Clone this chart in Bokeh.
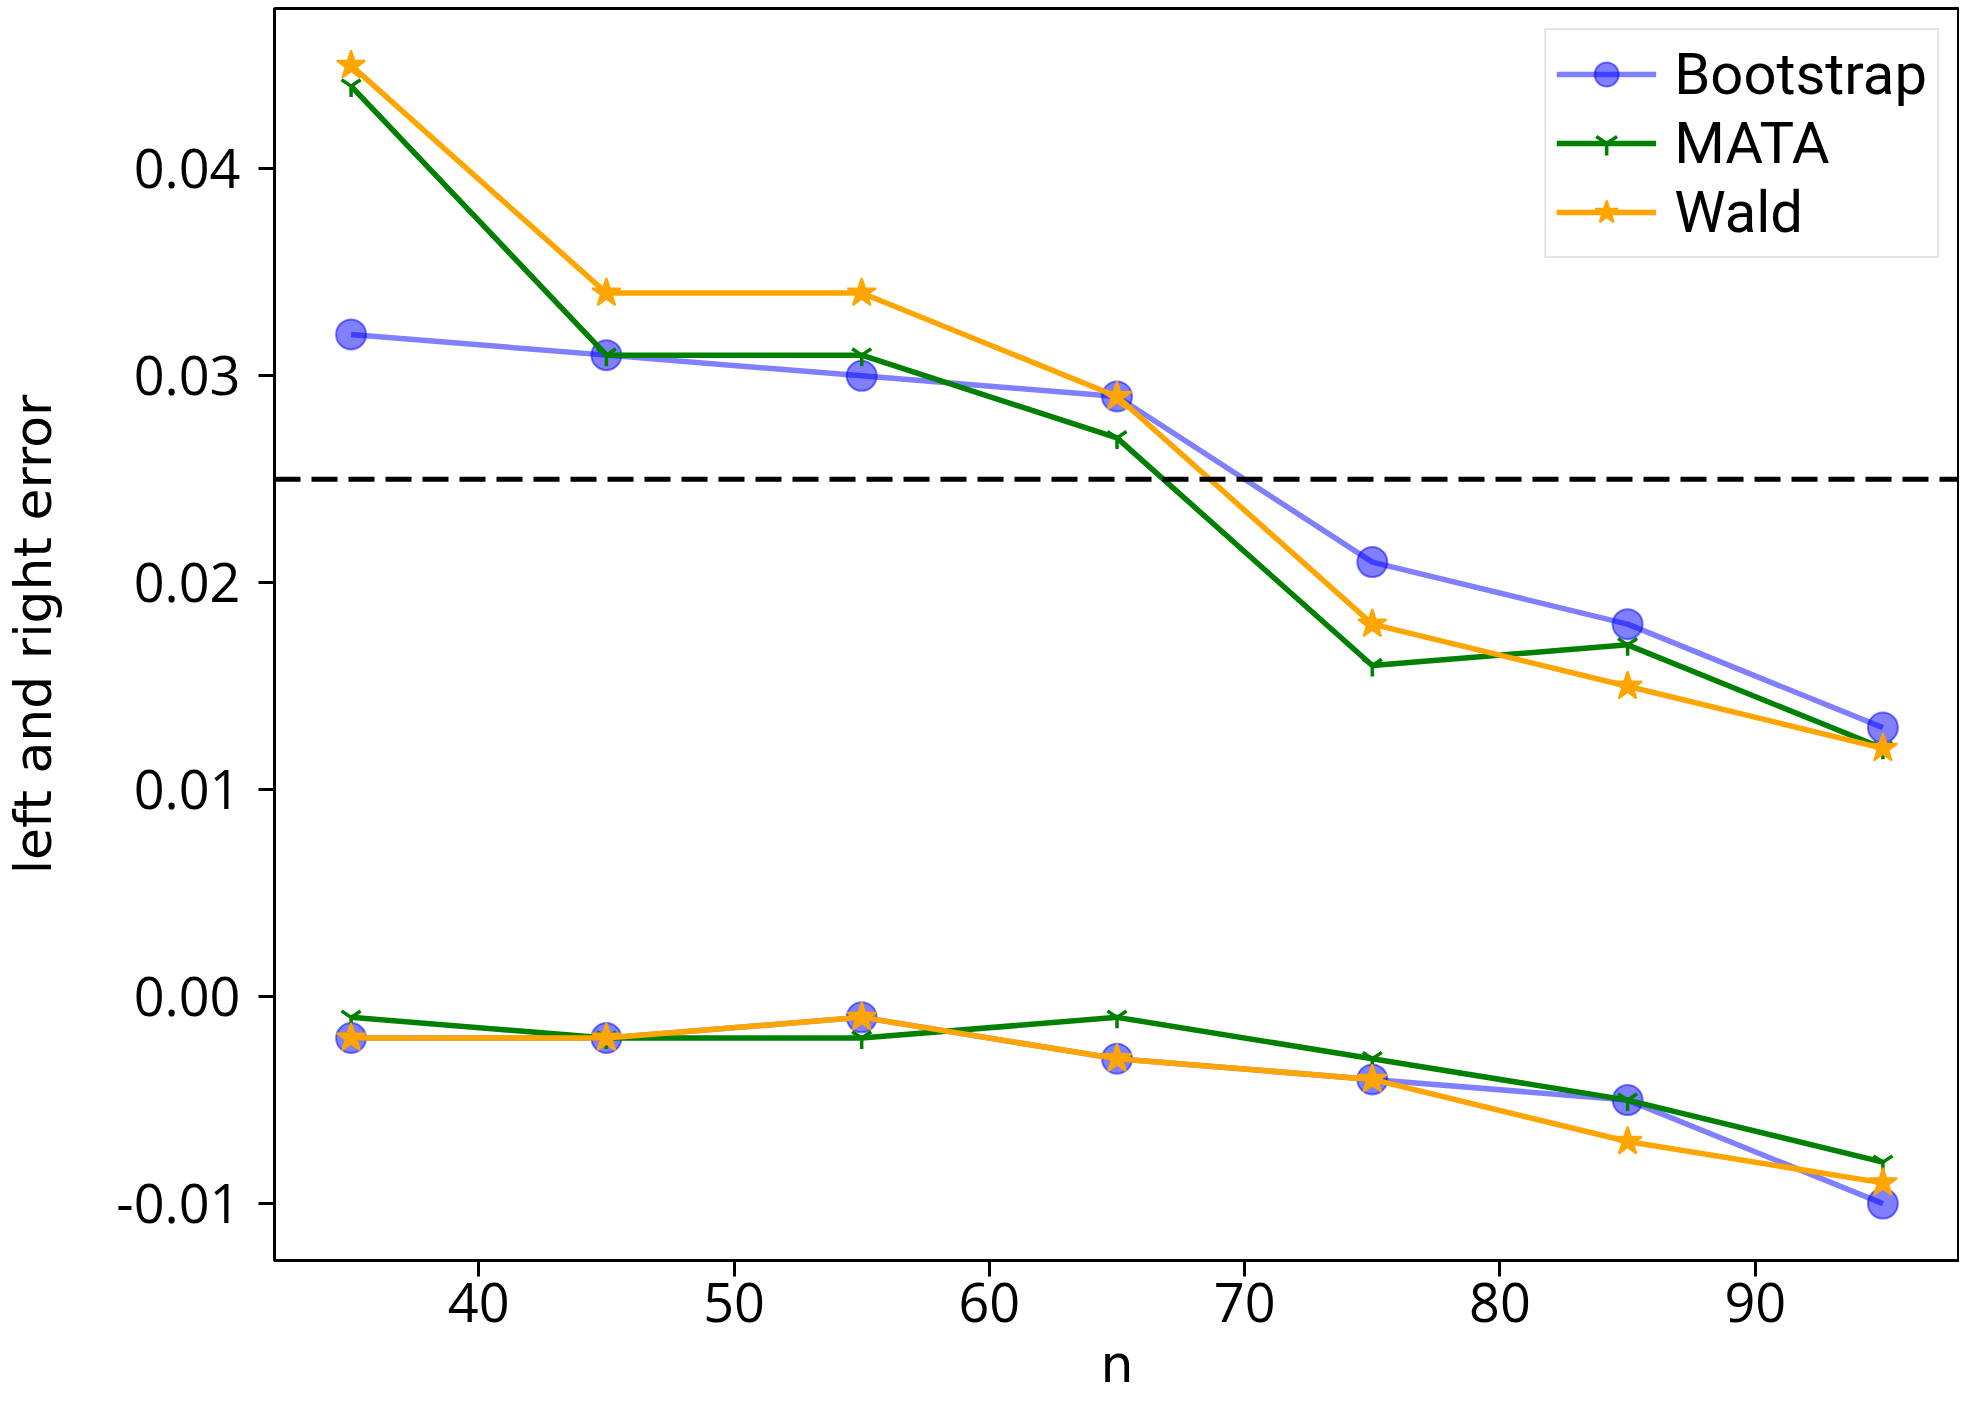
from bokeh.plotting import figure
from bokeh.models import Range1d, FixedTicker, PrintfTickFormatter, Span, Legend, LegendItem
from bokeh.embed import file_html
from bokeh.resources import INLINE

# data
n = [35, 45, 55, 65, 75, 85, 95]
boot_upper = [0.032, 0.031, 0.030, 0.029, 0.021, 0.018, 0.013]
boot_lower = [-0.002, -0.002, -0.001, -0.003, -0.004, -0.005, -0.010]
mata_upper = [0.044, 0.031, 0.031, 0.027, 0.016, 0.017, 0.012]
mata_lower = [-0.001, -0.002, -0.002, -0.001, -0.003, -0.005, -0.008]
wald_upper = [0.045, 0.034, 0.034, 0.029, 0.018, 0.015, 0.012]
wald_lower = [-0.002, -0.002, -0.001, -0.003, -0.004, -0.007, -0.009]
nominal = 0.025
x_ticks = [40, 50, 60, 70, 80, 90]
y_ticks = [-0.01, 0.0, 0.01, 0.02, 0.03, 0.04]
series_names = ["Bootstrap", "MATA", "Wald"]

p = figure(frame_width=1685, frame_height=1252, output_backend="svg", toolbar_location=None,
           x_range=Range1d(32, 98), y_range=Range1d(-0.01275, 0.04775),
           min_border_left=268, min_border_right=0, min_border_top=8, min_border_bottom=140)
p.background_fill_color = "white"
p.border_fill_color = "white"
p.grid.visible = False
p.outline_line_color = "black"
p.outline_line_width = 3

p.xaxis.ticker = FixedTicker(ticks=x_ticks)
p.yaxis.ticker = FixedTicker(ticks=y_ticks)
p.xaxis.formatter = PrintfTickFormatter(format="%d")
p.yaxis.formatter = PrintfTickFormatter(format="%.2f")
for ax in (p.xaxis, p.yaxis):
    ax.major_label_text_font = "Open Sans"
    ax.major_label_text_font_size = "54px"
    ax.major_label_text_color = "black"
    ax.axis_line_width = 3
    ax.axis_line_color = "black"
    ax.major_tick_line_width = 3
    ax.major_tick_line_color = "black"
    ax.major_tick_out = 16
    ax.major_tick_in = 0
    ax.minor_tick_line_color = None
    ax.axis_label_text_font = "DejaVu Sans"
    ax.axis_label_text_font_size = "52px"
    ax.axis_label_text_font_style = "normal"
    ax.axis_label_text_color = "black"
p.xaxis.axis_label = "n"
p.yaxis.axis_label = "left and right error"
p.xaxis.major_label_standoff = 6
p.yaxis.major_label_standoff = 18
p.xaxis.axis_label_standoff = 9
p.yaxis.axis_label_standoff = 50

p.add_layout(Span(location=nominal, dimension="width", line_color="black",
                  line_width=5, line_dash="26 11"))

def draw(y, color, alpha, marker, size):
    l = p.line(n, y, line_color=color, line_alpha=alpha, line_width=5.5)
    if marker == "y":
        s = p.scatter(n, y, marker=marker, size=size, line_color=color, line_alpha=alpha, line_width=3.5)
    else:
        s = p.scatter(n, y, marker=marker, size=size, fill_color=color, fill_alpha=alpha,
                      line_color=color, line_alpha=alpha, line_width=2)
    return [l, s]

items = []
styles = [("blue", 0.5, "circle", 30), ("green", 1.0, "y", 22), ("orange", 1.0, "star", 30)]
uppers = [boot_upper, mata_upper, wald_upper]
lowers = [boot_lower, mata_lower, wald_lower]
for name, (c, a, m, sz), up, lo in zip(series_names, styles, uppers, lowers):
    r = draw(up, c, a, m, sz)
    draw(lo, c, a, m, sz)
    items.append(LegendItem(label=name, renderers=r))

legend = Legend(items=items, location="top_right")
legend.label_text_font = "Roboto"
legend.label_text_font_size = "58px"
legend.label_text_color = "black"
legend.glyph_width = 100
legend.glyph_height = 60
legend.label_height = 60
legend.spacing = 1
legend.padding = 10
legend.margin = 20
legend.label_standoff = 18
legend.border_line_color = "#cccccc"
legend.border_line_width = 2
legend.background_fill_alpha = 0.8
p.add_layout(legend)

open("out.html", "w").write(file_html(p, INLINE))
